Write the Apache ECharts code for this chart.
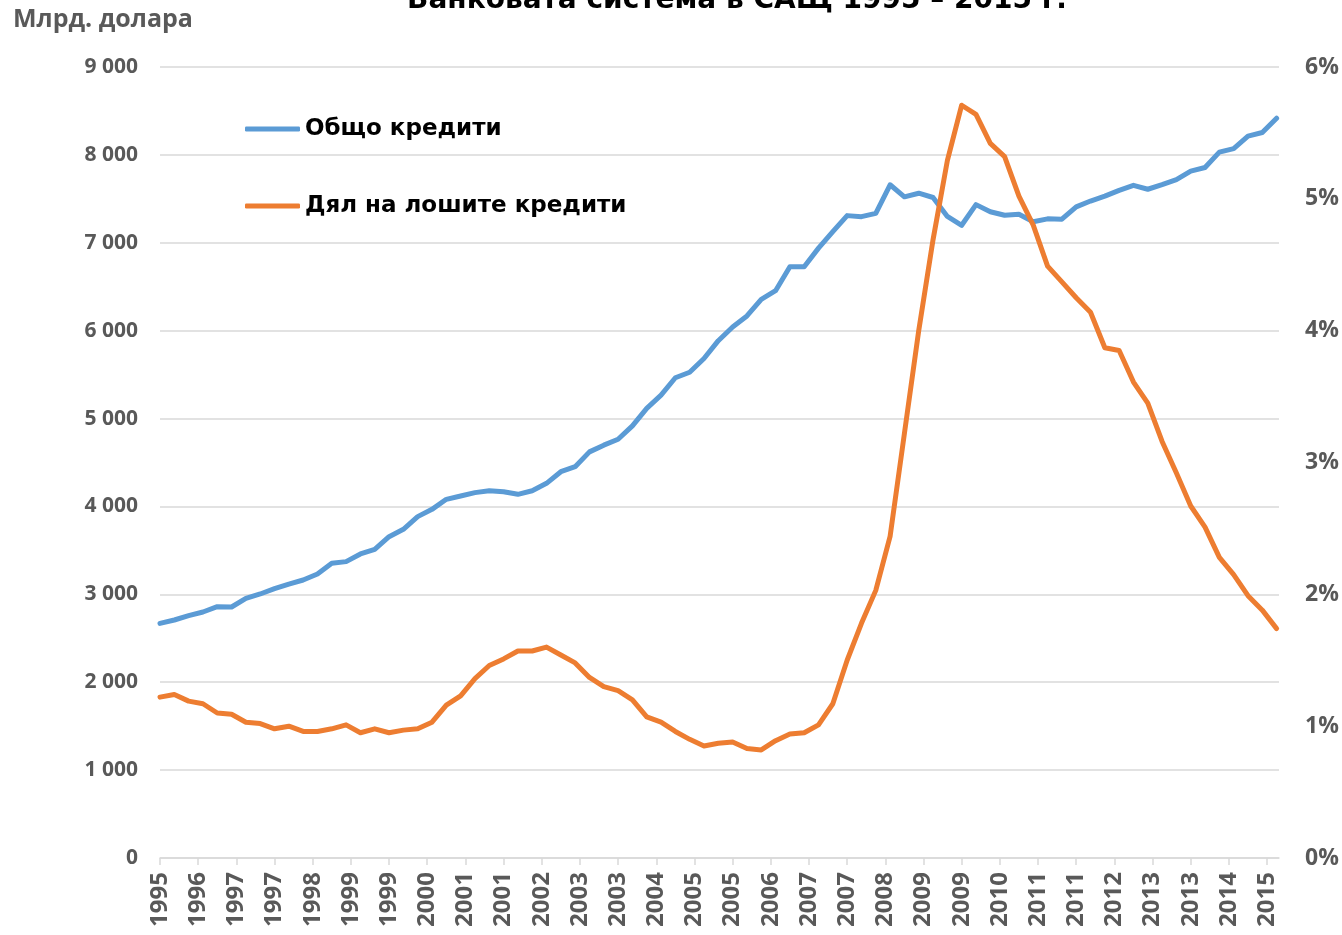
<!DOCTYPE html>
<html><head><meta charset="utf-8">
<script src="https://cdn.jsdelivr.net/npm/echarts@6/dist/echarts.min.js"></script>
<style>html,body{margin:0;padding:0;background:#fff}#c{width:1342px;height:935px}</style>
</head><body><div id="c"></div>
<script>
// Quarterly observations, first = 1995 Q4; x-axis measured in months from the first observation
const firstYear = 1995, firstQuarter = 4;
const tickLabels = ['1995','1996','1997','1997','1998','1999','1999','2000','2001','2001',
  '2002','2003','2003','2004','2005','2005','2006','2007','2007','2008',
  '2009','2009','2010','2011','2011','2012','2013','2013','2014','2015'];
// Total loans, bn USD
const totalLoans = [2670,2708,2757,2799,2860,2856,2954,3004,3064,3117,
  3163,3231,3353,3372,3459,3512,3656,3740,3884,3967,
  4081,4119,4157,4179,4168,4138,4179,4263,4395,4452,
  4621,4697,4764,4917,5115,5266,5464,5527,5683,5886,
  6042,6168,6357,6455,6728,6728,6939,7128,7309,7297,
  7335,7660,7523,7564,7515,7300,7199,7434,7353,7313,
  7325,7240,7272,7268,7409,7475,7531,7597,7654,7609,
  7661,7718,7816,7856,8031,8071,8214,8255,8418];
// Share of non-performing loans, %
const badLoanShare = [1.22,1.24,1.19,1.17,1.10,1.09,1.03,1.02,0.98,1.00,
  0.96,0.96,0.98,1.01,0.95,0.98,0.95,0.97,0.98,1.03,
  1.16,1.23,1.36,1.46,1.51,1.57,1.57,1.60,1.54,1.48,
  1.37,1.30,1.27,1.20,1.07,1.03,0.96,0.90,0.85,0.87,
  0.88,0.83,0.82,0.89,0.94,0.95,1.01,1.17,1.50,1.78,
  2.03,2.44,3.22,4.00,4.69,5.29,5.71,5.64,5.42,5.32,
  5.02,4.80,4.49,4.37,4.25,4.14,3.87,3.85,3.61,3.45,
  3.16,2.92,2.67,2.51,2.28,2.15,1.99,1.88,1.74];
const leftTicks = {min:0, max:9000, step:1000};
const rightTicks = {min:0, max:6, step:1};
const monthsPerQuarter = 3, monthsPerTick = 8;

const quarters = totalLoans.map((_, i) => {
  const q = firstQuarter - 1 + i;
  return (firstYear + Math.floor(q / 4)) + ' Q' + (q % 4 + 1);
});
const tickValues = tickLabels.map((_, k) => k * monthsPerTick);
const loanData = totalLoans.map((v, i) => [i * monthsPerQuarter, v, quarters[i]]);
const shareData = badLoanShare.map((v, i) => [i * monthsPerQuarter, v, quarters[i]]);

const gray = '#595959', grid = '#D9D9D9';
const axisFont = "'Open Sans', sans-serif";
const chart = echarts.init(document.getElementById('c'));
chart.setOption({
  animation: false,
  backgroundColor: '#fff',
  grid: {left: 160, right: 63, top: 67, bottom: 77},
  graphic: [
    {type: 'text', x: 737, y: 1, style: {text: 'Банковата система в САЩ 1995 – 2015 г.', fill: '#000',
      font: "bold 28px 'DejaVu Sans'", textAlign: 'center', textVerticalAlign: 'middle'}},
    {type: 'text', x: 13, y: 20, style: {text: 'Млрд. долара', fill: gray,
      font: "bold 25px 'Open Sans'", textAlign: 'left', textVerticalAlign: 'middle'}}
  ],
  legend: {
    orient: 'vertical', left: 245, top: 116, padding: 0, itemWidth: 55, itemHeight: 5, itemGap: 51,
    icon: 'roundRect',
    textStyle: {fontFamily: 'DejaVu Sans', fontWeight: 'bold', fontSize: 23, color: '#000', lineHeight: 26},
    data: ['Общо кредити', 'Дял на лошите кредити']
  },
  xAxis: {
    type: 'value', min: 0, max: 234.5,
    axisLine: {show: true, lineStyle: {color: grid, width: 1.5}},
    axisTick: {show: true, length: 7, customValues: tickValues, lineStyle: {color: grid, width: 1.5}},
    splitLine: {show: false},
    axisLabel: {customValues: tickValues, rotate: 90, margin: 14, color: gray, fontFamily: axisFont,
      fontWeight: 'bold', fontSize: 24,
      formatter: v => tickLabels[Math.round(v / monthsPerTick)] || ''}
  },
  yAxis: [
    {type: 'value', min: leftTicks.min, max: leftTicks.max, interval: leftTicks.step,
      axisLine: {show: false}, axisTick: {show: false},
      splitLine: {lineStyle: {color: grid, width: 1.5}},
      axisLabel: {margin: 22, color: gray, fontFamily: axisFont, fontWeight: 'bold', fontSize: 21,
        formatter: v => String(v).replace(/\B(?=(\d{3})+(?!\d))/g, ' ')}},
    {type: 'value', min: rightTicks.min, max: rightTicks.max, interval: rightTicks.step, position: 'right',
      axisLine: {show: false}, axisTick: {show: false}, splitLine: {show: false},
      axisLabel: {margin: 26, color: gray, fontFamily: axisFont, fontWeight: 'bold', fontSize: 23,
        formatter: v => v + '%'}}
  ],
  series: [
    {name: 'Общо кредити', type: 'line', yAxisIndex: 0, data: loanData, symbol: 'none',
      itemStyle: {color: '#5B9BD5'},
      lineStyle: {color: '#5B9BD5', width: 5, cap: 'round', join: 'round'}},
    {name: 'Дял на лошите кредити', type: 'line', yAxisIndex: 1, data: shareData, symbol: 'none',
      itemStyle: {color: '#ED7D31'},
      lineStyle: {color: '#ED7D31', width: 5, cap: 'round', join: 'round'}}
  ]
});
</script></body></html>
